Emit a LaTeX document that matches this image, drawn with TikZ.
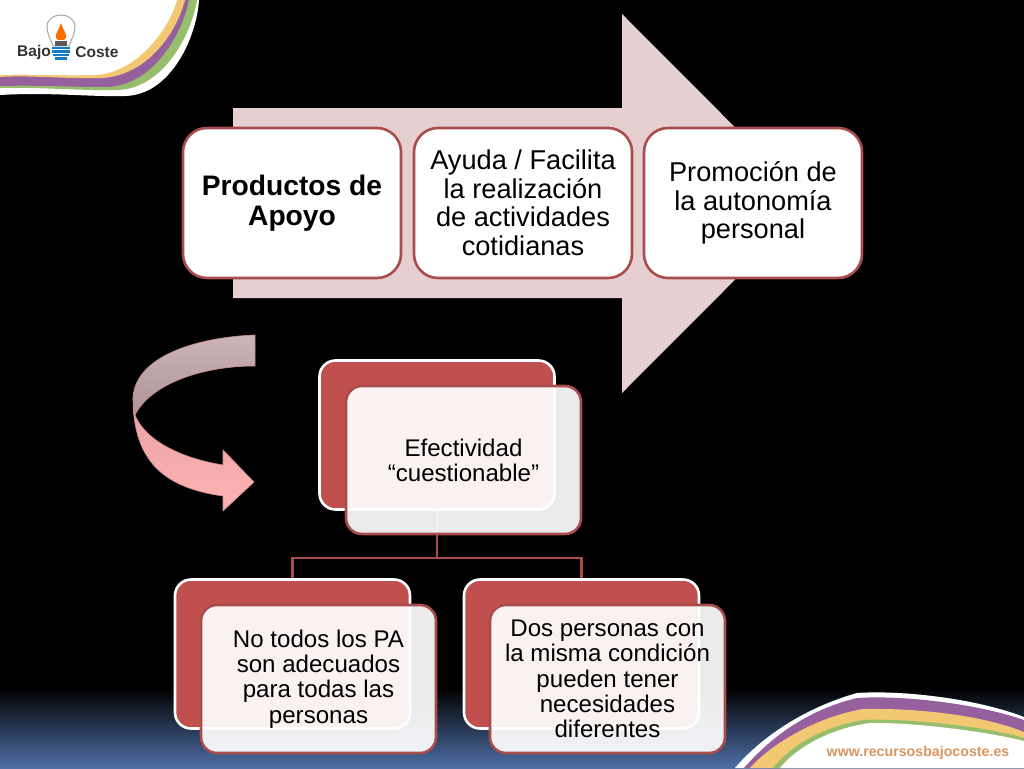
\documentclass[tikz,border=0pt]{standalone}
\usepackage{fontspec}
\setmainfont{Liberation Sans}
\usetikzlibrary{calc}
\definecolor{edgered}{HTML}{A94C4C}
\definecolor{cardred}{HTML}{C0504D}
\definecolor{arrowpink}{HTML}{E6CFD0}
\definecolor{deepblue}{HTML}{4F6FA5}
\definecolor{rbgreen}{HTML}{97BE6C}
\definecolor{rbpurple}{HTML}{96609E}
\definecolor{rbyellow}{HTML}{F3C873}
\definecolor{webtan}{HTML}{D9965F}
\definecolor{ribtop}{HTML}{CDB4B6}
\definecolor{ribmid}{HTML}{AD9396}
\definecolor{ribpinka}{HTML}{E9A2A4}
\definecolor{ribpinkb}{HTML}{FFB2B2}
\definecolor{ribedge}{HTML}{C98A8A}
\tikzset{
  topbox/.style={draw=edgered,line width=2.6pt,fill=white,rounded corners=24pt,minimum width=218pt,minimum height=150pt,inner sep=0pt,align=center,text=black,font=\fontsize{27.2}{28.5}\selectfont},
  redcard/.style={draw=white,line width=2.6pt,fill=cardred,rounded corners=16pt,minimum width=235pt,minimum height=149pt,inner sep=0pt},
  palecard/.style={draw=edgered,line width=2.6pt,fill=white,fill opacity=.92,text opacity=1,rounded corners=16pt,minimum width=235pt,minimum height=148pt,inner sep=0pt,align=center,text=black,font=\fontsize{24.1}{25.2}\selectfont},
  tree/.style={draw=edgered,line width=2.6pt},
  ribbon/.style={draw=#1,line width=.6pt}
}
\begin{document}
\begin{tikzpicture}[x=1pt,y=-1pt]
\useasboundingbox (0,0) rectangle (1024,768);
% background
\fill[black] (0,0) rectangle (1024,768);
\shade[top color=black,bottom color=deepblue] (0,688) rectangle (1024,768);
% top-left band
\fill[white] (0,0) -- (199,0) .. controls (197,35) and (172,95) .. (125,96) .. controls (90,97) and (50,92) .. (0,95) -- cycle;
\fill[rbgreen] (0,0) -- (197,0) .. controls (192,32) and (165,88) .. (118,90) .. controls (85,91) and (40,87) .. (0,88) -- cycle;
\fill[rbpurple] (0,0) -- (189,0) .. controls (182,35) and (152,87) .. (105,87) .. controls (70,87) and (40,85) .. (0,86) -- cycle;
\fill[rbyellow] (0,0) -- (185,0) .. controls (176,35) and (145,77) .. (100,78) .. controls (65,79) and (30,75) .. (0,77) -- cycle;
\fill[white] (0,0) -- (177,0) .. controls (168,32) and (135,73) .. (95,75) .. controls (65,76) and (30,74) .. (0,75) -- cycle;
% logo
\draw[gray!70,line width=1pt,fill=white] (53,46) .. controls (50,38) and (47,33) .. (47,27) .. controls (47,19) and (54,15) .. (61,15) .. controls (68,15) and (75,19) .. (75,27) .. controls (75,33) and (72,38) .. (69,46) -- cycle;
\fill[orange!85!red] (61,23) .. controls (59,30) and (55,33) .. (56,38) .. controls (57,41) and (65,41) .. (66,38) .. controls (67,33) and (63,30) .. (61,23) -- cycle;
\fill[gray!70!black] (55,41) rectangle (67,46);
\foreach \yy/\ww in {47/9,50.5/9,54/8,57.5/6}{
  \fill[cyan!60!blue] (61-\ww,\yy) rectangle (61+\ww,\yy+2.4);
}
\node[inner sep=0pt,text=black!80,font=\fontsize{15.5}{17}\selectfont\bfseries] (bajo) at (34,52) {Bajo};
\node[inner sep=0pt,text=black!80,font=\fontsize{15.5}{17}\selectfont\bfseries] (coste) at (97,52) {Coste};
% bottom-right band
\fill[white] (735,768) .. controls (750,750) and (790,712) .. (857,693) .. controls (900,690) and (975,698) .. (1024,717) -- (1024,768) -- cycle;
\fill[rbpurple] (744,768) .. controls (760,750) and (795,713) .. (857,698) .. controls (900,695) and (975,703) .. (1024,720) -- (1024,768) -- cycle;
\fill[rbyellow] (750,768) .. controls (765,750) and (810,718) .. (863,709) .. controls (900,708) and (975,712) .. (1024,732) -- (1024,768) -- cycle;
\fill[rbgreen] (773,768) .. controls (785,752) and (815,728) .. (863,720) .. controls (900,718) and (980,725) .. (1024,738) -- (1024,768) -- cycle;
\fill[white] (780,768) .. controls (790,755) and (820,730) .. (870,723) .. controls (905,722) and (980,730) .. (1024,741) -- (1024,768) -- cycle;
\node[inner sep=0pt,text=webtan,font=\fontsize{14.2}{17}\selectfont\bfseries] (web) at (918,753) {www.recursosbajocoste.es};
% big arrow
\fill[arrowpink] (233,108) -- (622,108) -- (622,14) -- (811,203.5) -- (622,393) -- (622,298) -- (233,298) -- cycle;
% top row
\node[topbox,font=\fontsize{28.2}{29.5}\selectfont\bfseries] (prod) at (292,203) {Productos de\\Apoyo};
\node[topbox] (ayuda) at (523,203) {Ayuda / Facilita\\la realización\\de actividades\\cotidianas};
\node[topbox] (promo) at (753,203) {Promoción de\\la autonomía\\personal};
% curved arrow
\shade[top color=ribtop,bottom color=ribmid,ribbon=ribedge] (255,335) .. controls (200,337) and (135,355) .. (133,398) -- (135,415) .. controls (150,385) and (200,366) .. (255,366) -- cycle;
\shade[top color=ribpinka,bottom color=ribpinkb,ribbon=ribedge] (133,398) .. controls (133,462) and (165,488) .. (223,496) -- (223,511) -- (254,482) -- (223,450) -- (223,465) .. controls (180,458) and (145,440) .. (135,415) -- cycle;
% tree: cards are placed first, connectors run beneath the pale cards
\node[redcard] (rootred) at (437,435) {};
\node[redcard] (leftred) at (292.5,654) {};
\node[redcard] (rightred) at (581.5,654) {};
\coordinate (bus) at ($(rootred.south)+(0,47)$);
\draw[tree] (rootred.south) -- (bus) -| (leftred.north);
\draw[tree] (bus) -| (rightred.north);
\node[palecard] (root) at (463.5,460) {Efectividad\\“cuestionable”};
\node[palecard] (left) at (318.5,679) {No todos los PA\\son adecuados\\para todas las\\personas};
\node[palecard] (right) at (607.5,679) {Dos personas con\\la misma condición\\pueden tener\\necesidades\\diferentes};
\end{tikzpicture}
\end{document}
